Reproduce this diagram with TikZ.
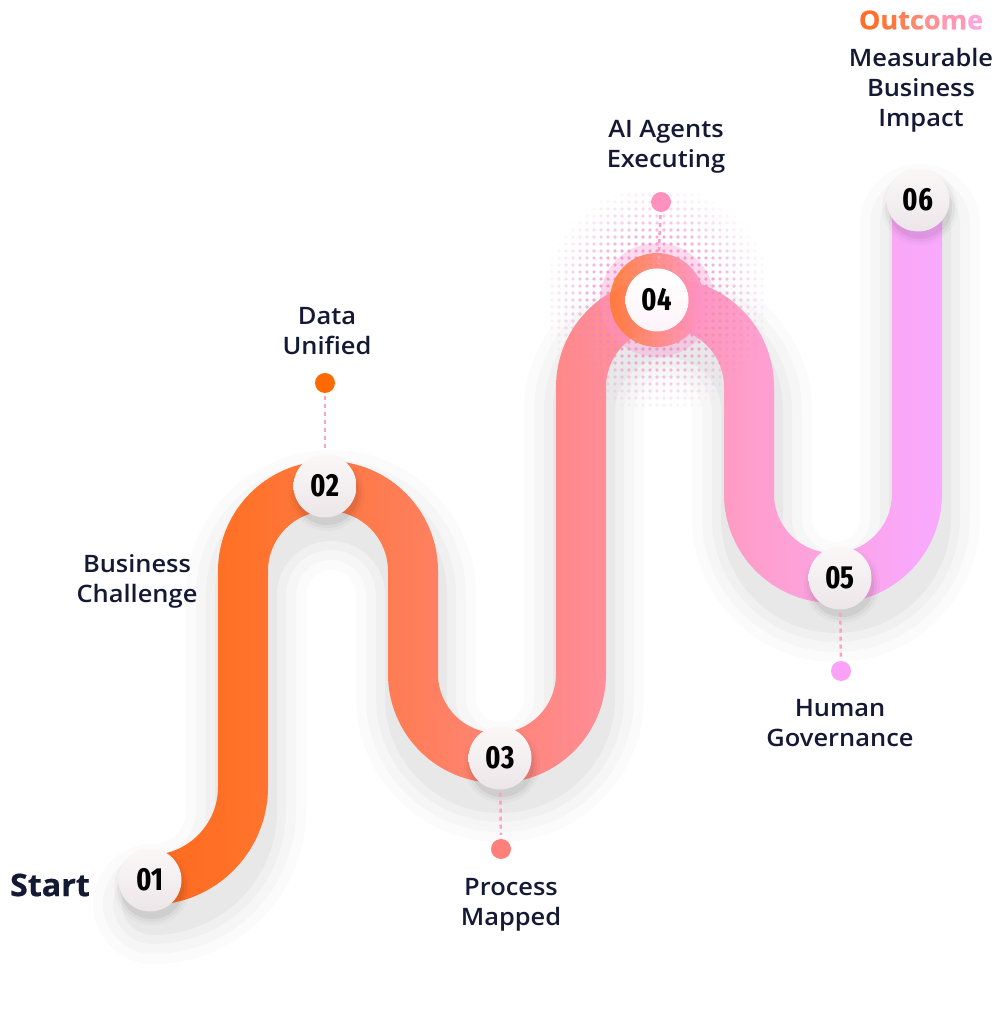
\documentclass[tikz,border=0pt]{standalone}
\usepackage{fontspec}
\setmainfont{Open Sans}
\IfFontExistsTF{Fira Sans Extra Condensed Bold}
  {\newfontfamily\numfont{Fira Sans Extra Condensed Bold}[FakeStretch=0.95]}
  {\newfontfamily\numfont{Fira Sans Bold}[FakeStretch=0.72]}
\IfFontExistsTF{Open Sans SemiBold}
  {\newfontfamily\labfont{Open Sans SemiBold}[FakeStretch=1.06]}
  {\IfFontExistsTF{Open Sans Semibold}
    {\newfontfamily\labfont{Open Sans Semibold}[FakeStretch=1.06]}
    {\newfontfamily\labfont{Open Sans Bold}[FakeStretch=1.04]}}
\IfFontExistsTF{Open Sans ExtraBold}
  {\newfontfamily\headfont{Open Sans ExtraBold}[FakeStretch=1.04]}
  {\newfontfamily\headfont{Open Sans Bold}[FakeStretch=1.04, FakeBold=0.6]}
\usetikzlibrary{calc}
\definecolor{ink}{HTML}{141A33}
\definecolor{rA}{HTML}{FF6A1F}
\definecolor{rB}{HTML}{FF7229}
\definecolor{rC}{HTML}{FF7E5A}
\definecolor{rD}{HTML}{FF8B90}
\definecolor{rE}{HTML}{FE9ECB}
\definecolor{rF}{HTML}{F9A8FB}
\definecolor{rG}{HTML}{F8AAFD}
\definecolor{conn}{HTML}{FF9EC6}
\definecolor{ctop}{HTML}{FBF7F7}
\definecolor{cbot}{HTML}{ECE6E9}
\definecolor{haloc}{HTML}{EC84C4}
\definecolor{ringO}{HTML}{FF7A30}
\definecolor{ringP}{HTML}{FF94CC}
\definecolor{dA}{HTML}{FF6A00}
\definecolor{dB}{HTML}{FF7F7A}
\definecolor{dC}{HTML}{FF92BC}
\definecolor{dD}{HTML}{FBA2F8}
\definecolor{o1}{HTML}{FF6E2A}
\definecolor{o2}{HTML}{FF773E}
\definecolor{o3}{HTML}{FF8056}
\definecolor{o4}{HTML}{FF8870}
\definecolor{o5}{HTML}{FF8F90}
\definecolor{o6}{HTML}{FF98B4}
\definecolor{o7}{HTML}{FFA4D8}
\pgfdeclarehorizontalshading{roadshade}{100bp}{color(0bp)=(rA); color(25bp)=(rA); color(30.9bp)=(rB); color(41.6bp)=(rC); color(52.2bp)=(rD); color(62.8bp)=(rE); color(73.4bp)=(rF); color(75bp)=(rG); color(100bp)=(rG)}
\def\roadpath{(150,133) arc[start angle=-90,end angle=0,radius=93] -- (243,442) arc[start angle=180,end angle=0,radius=85] -- (413,339) arc[start angle=180,end angle=360,radius=84] -- (581,626) arc[start angle=180,end angle=0,radius=84] -- (749,519) arc[start angle=180,end angle=360,radius=84] -- (917,813)}
\def\roadband{(150,108) arc[start angle=-90,end angle=0,radius=118] -- (268,442) arc[start angle=180,end angle=0,radius=60] -- (388,339) arc[start angle=180,end angle=360,radius=109] -- (606,626) arc[start angle=180,end angle=0,radius=59] -- (724,519) arc[start angle=180,end angle=360,radius=109] -- (942,813) -- (892,813) -- (892,519) arc[start angle=0,end angle=-180,radius=59] -- (774,626) arc[start angle=0,end angle=180,radius=109] -- (556,339) arc[start angle=360,end angle=180,radius=59] -- (438,442) arc[start angle=0,end angle=180,radius=110] -- (218,226) arc[start angle=0,end angle=-90,radius=68] -- cycle}
\tikzset{
  stepcircle/.style={circle, minimum size=63pt, inner sep=0pt, top color=ctop, bottom color=cbot,
    font=\numfont\fontsize{32}{32}\selectfont, text=black},
  dotnode/.style={circle, minimum size=20pt, inner sep=0pt},
  lab/.style={align=center, text=ink, font=\labfont\fontsize{24}{30}\selectfont},
  connector/.style={draw=conn, line width=2.5pt, dash pattern=on 4pt off 4pt, shorten <=3pt, shorten >=4pt},
}
\newcommand{\circshadow}[2]{%
  \foreach \k/\o in {7/0.025,4/0.035,1/0.05}{\fill[black,opacity=\o] (#1+2,#2-7) circle (31+\k);}}
\begin{document}
\begin{tikzpicture}[x=1pt,y=1pt]
\fill[white] (0,0) rectangle (1007,1013);
\useasboundingbox (0,0) rectangle (1007,1013);
% road shadow
\begin{scope}[yshift=-24pt, xshift=3pt]
\foreach \w/\o in {120/0.015,100/0.02,80/0.025,62/0.03}{
  \draw[black, opacity=\o, line width=\w pt, line cap=round] \roadpath;}
\end{scope}
% road
\shade[shading=roadshade] \roadband;
% halo around 04
\foreach \i in {-15,...,15}{\foreach \j in {-15,...,15}{%
  \pgfmathsetmacro\rr{7*sqrt((\i)*(\i)+(\j)*(\j))}%
  \pgfmathsetmacro\op{max(0,min(0.85,(1.1-\rr/105)*1.3))}%
  \fill[haloc, opacity=\op] (657+7*\i,713+7*\j) circle (1.8);
}}
\fill[ringP, opacity=0.35] (657,713) circle (57);
\shade[left color=ringO, right color=ringP, opacity=0.9] (657,713) circle (47);
% circle shadows
\circshadow{150}{133}
\circshadow{325}{527}
\circshadow{500}{255}
\circshadow{840}{435}
\circshadow{918}{813}
% steps
\node[stepcircle] (n1) at (150,133) {01};
\node[stepcircle] (n2) at (325,527) {02};
\node[stepcircle] (n3) at (500,255) {03};
\node[stepcircle, top color=white, bottom color=ctop!70!ringP!30] (n4) at (657,713) {04};
\node[stepcircle] (n5) at (840,435) {05};
\node[stepcircle] (n6) at (918,813) {06};
% dots
\node[dotnode, fill=dA] (d2) at (325,630) {};
\node[dotnode, fill=dB] (d3) at (501,164) {};
\node[dotnode, fill=dC] (d4) at (661,811) {};
\node[dotnode, fill=dD] (d5) at (841,342) {};
% connectors
\draw[connector] (d2) -- (n2);
\draw[connector] (n3) -- (d3);
\draw[connector] (d4) -- (n4);
\draw[connector] (n5) -- (d5);
% labels
\node[lab] (l1) at (137,432) {Business\\Challenge};
\node[lab] (l2) at (327,682) {Data\\Unified};
\node[lab] (l3) at (511,108) {Process\\Mapped};
\node[lab] (l4) at (666,866) {AI Agents\\Executing};
\node[lab] (l5) at (840,290) {Human\\Governance};
\node[lab] (l6) at (921,923) {Measurable\\Business\\Impact};
\node[text=ink, font=\headfont\fontsize{31}{36}\selectfont] (start) at (50,128) {Start};
\node[font=\headfont\fontsize{26}{30}\selectfont] (out) at (921,993) {\textcolor{o1}{O}\textcolor{o2}{u}\textcolor{o3}{t}\textcolor{o4}{c}\textcolor{o5}{o}\textcolor{o6}{m}\textcolor{o7}{e}};
\end{tikzpicture}
\end{document}
